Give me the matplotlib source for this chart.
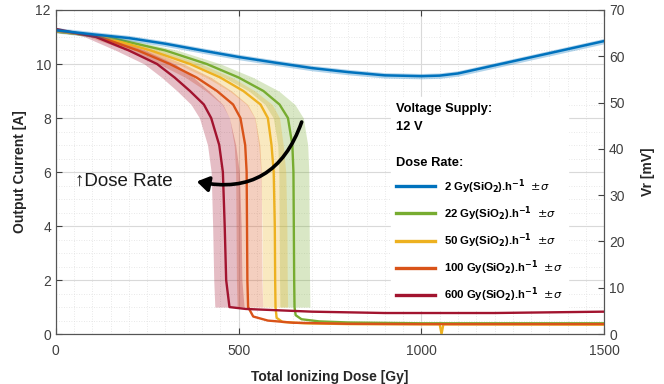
import matplotlib
matplotlib.use("Agg")
import matplotlib.pyplot as plt
import numpy as np
from matplotlib.lines import Line2D
from matplotlib.patches import FancyArrowPatch

plt.rcParams['font.family'] = ['Liberation Sans', 'DejaVu Sans']

# ---------------- data ----------------
labels = ["2 Gy(SiO$_\\mathbf{2}$).h$^\\mathbf{-1}$  $\\pm\\sigma$",
          "22 Gy(SiO$_\\mathbf{2}$).h$^\\mathbf{-1}$  $\\pm\\sigma$",
          "50 Gy(SiO$_\\mathbf{2}$).h$^\\mathbf{-1}$  $\\pm\\sigma$",
          "100 Gy(SiO$_\\mathbf{2}$).h$^\\mathbf{-1}$  $\\pm\\sigma$",
          "600 Gy(SiO$_\\mathbf{2}$).h$^\\mathbf{-1}$  $\\pm\\sigma$"]
colors = ["#0072BD", "#77AC30", "#EDB120", "#D95319", "#A2142F"]

# 2 Gy/h : dose vs current
blue_dose = [0, 100, 200, 300, 400, 500, 600, 700, 800, 900, 1000, 1050, 1100, 1200, 1300, 1400, 1500]
blue_cur = [11.25, 11.1, 10.96, 10.75, 10.5, 10.26, 10.05, 9.85, 9.7, 9.58, 9.55, 9.57, 9.65, 9.95, 10.25, 10.55, 10.85]
blue_sig = 0.1

# descending parts (dose at given current), then floor
green_dose = [0, 140, 300, 413, 500, 568, 612, 635, 647, 650, 651, 652, 653, 656, 672, 720, 800, 1000, 1500]
green_cur = [11.2, 11.0, 10.5, 10.0, 9.5, 9.0, 8.5, 8.0, 7.0, 6.0, 4.0, 2.0, 1.0, 0.7, 0.55, 0.47, 0.43, 0.4, 0.4]
green_lo = [0, 30, 35, 38, 40, 40, 40, 40, 40, 40, 40, 40, 40]
green_hi = [0, 30, 35, 38, 40, 42, 42, 42, 42, 42, 42, 42, 42]

yellow_dose = [0, 130, 260, 367, 450, 513, 560, 580, 590, 596, 599, 600, 601, 604, 620, 680, 800, 1050, 1055, 1060, 1500]
yellow_cur = [11.2, 11.0, 10.5, 10.0, 9.5, 9.0, 8.5, 8.0, 7.0, 6.0, 4.0, 2.0, 1.0, 0.6, 0.45, 0.4, 0.37, 0.36, 0.0, 0.36, 0.35]
yellow_lo = [0, 30, 35, 35, 38, 38, 38, 36, 35, 35, 35, 35, 35]
yellow_hi = [0, 30, 30, 30, 32, 32, 32, 32, 32, 33, 33, 33, 33]

orange_dose = [0, 120, 225, 312, 385, 441, 485, 505, 518, 522, 523, 524, 526, 540, 580, 650, 800, 1000, 1500]
orange_cur = [11.25, 11.0, 10.5, 10.0, 9.5, 9.0, 8.5, 8.0, 7.0, 6.0, 4.0, 2.0, 1.0, 0.65, 0.5, 0.42, 0.38, 0.37, 0.37]
orange_lo = [0, 28, 30, 30, 30, 30, 30, 30, 30, 30, 30, 30, 30]
orange_hi = [0, 30, 35, 38, 40, 40, 40, 40, 40, 40, 40, 40, 40]

red_dose = [0, 110, 200, 277, 325, 367, 405, 425, 447, 457, 462, 466, 475, 520, 700, 900, 1200, 1500]
red_cur = [11.3, 11.0, 10.5, 10.0, 9.5, 9.0, 8.5, 8.0, 7.0, 6.0, 4.0, 2.0, 1.0, 0.93, 0.83, 0.78, 0.78, 0.83]
red_lo = [0, 30, 35, 35, 35, 35, 35, 32, 32, 32, 33, 34, 40]
red_hi = [0, 35, 45, 50, 52, 52, 52, 50, 45, 45, 45, 43, 40]

xticks = [0, 500, 1000, 1500]
yticks = [0, 2, 4, 6, 8, 10, 12]
vr_ticks = [0, 10, 20, 30, 40, 50, 60, 70]

# ---------------- figure ----------------
fig = plt.figure(figsize=(6.64, 3.84), dpi=100)
ax = fig.add_axes([0.084, 0.130, 0.826, 0.844])
ax.set_xlim(0, 1500)
ax.set_ylim(0, 12)

ax.set_xticks(xticks)
ax.set_yticks(yticks)
ax.set_xticks(np.arange(0, 1501, 50), minor=True)
ax.set_yticks(np.arange(0, 12.01, 0.5), minor=True)
ax.grid(which='major', color='#d9d9d9', lw=0.8)
ax.grid(which='minor', color='#e0e0e0', lw=0.6, ls=(0, (1, 2)))
ax.tick_params(which='minor', length=0)
ax.tick_params(which='major', direction='in', length=4, top=True, labelsize=10,
               colors='#404040', labelcolor='#404040')
ax.tick_params(axis='x', pad=7)
ax.set_axisbelow(True)
for s in ax.spines.values():
    s.set_color('#555555')

series = [
    (green_dose, green_cur, green_lo, green_hi, colors[1]),
    (yellow_dose, yellow_cur, yellow_lo, yellow_hi, colors[2]),
    (orange_dose, orange_cur, orange_lo, orange_hi, colors[3]),
    (red_dose, red_cur, red_lo, red_hi, colors[4]),
]
for d, c, lo, hi, col in series:
    n = len(lo)
    dd = np.array(d[:n], float)
    cc = np.array(c[:n], float)
    ax.fill_betweenx(cc, dd - np.array(lo), dd + np.array(hi), color=col, alpha=0.28, lw=0, zorder=1)
for d, c, lo, hi, col in series:
    ax.plot(d, c, color=col, lw=1.7, zorder=3)

bd = np.array(blue_dose, float)
bc = np.array(blue_cur, float)
ax.fill_between(bd, bc - blue_sig, bc + blue_sig, color=colors[0], alpha=0.3, lw=0, zorder=3)
ax.plot(bd, bc, color=colors[0], lw=1.8, zorder=4)

ax.set_xlabel('Total Ionizing Dose [Gy]', fontsize=10, fontweight='bold', color='#262626', labelpad=9)
ax.set_ylabel('Output Current [A]', fontsize=10, fontweight='bold', color='#262626', labelpad=6)

ax2 = ax.twinx()
ax2.set_ylim(0, 70)
ax2.set_yticks(vr_ticks)
ax2.tick_params(direction='in', length=4, labelsize=10, colors='#404040', labelcolor='#404040')
ax2.set_ylabel('Vr [mV]', fontsize=10, fontweight='bold', color='#262626', labelpad=12)
for s in ax2.spines.values():
    s.set_color('#555555')

# annotation
ax.text(52, 5.65, '\u2191Dose Rate', fontsize=13.5, color='#1a1a1a', va='center', ha='left',
        family=['Liberation Sans', 'DejaVu Sans'], zorder=6)
arr = FancyArrowPatch((675, 7.95), (378, 5.67), connectionstyle='arc3,rad=-0.45',
                      arrowstyle='-|>,head_length=7,head_width=4.5', lw=2.6, color='black',
                      mutation_scale=1, zorder=6)
ax.add_patch(arr)

handles = [Line2D([0], [0], color=c, lw=2.4) for c in colors]
leg = ax.legend(handles, labels, loc='upper left', bbox_to_anchor=(0.6, 0.748),
                title='Voltage Supply:\n12 V\n\nDose Rate:', frameon=True, fancybox=False,
                edgecolor='white', facecolor='white', framealpha=1.0,
                prop={'size': 8.2, 'weight': 'bold'}, handlelength=3.4, labelspacing=0.75,
                borderpad=0.5)
tt = leg.get_title()
tt.set_fontweight('bold')
tt.set_fontsize(9.3)
tt.set_ha('left')
tt.set_linespacing(1.65)
leg._legend_box.align = 'left'
leg.set_zorder(2.5)

fig.savefig('out.png', dpi=100)
